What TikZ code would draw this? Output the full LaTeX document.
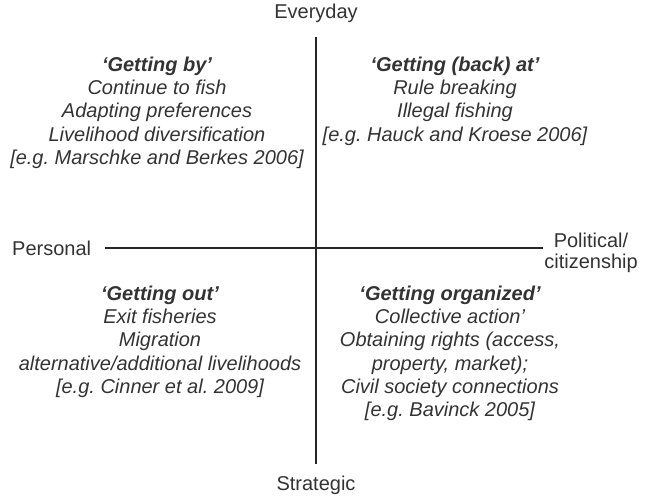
\documentclass[tikz,border=0pt]{standalone}
\usepackage{fontspec}
\setmainfont{Liberation Sans}
\begin{document}
\frenchspacing
\begin{tikzpicture}[x=1pt,y=-1pt,
  txt/.style={text=black!80, font=\fontsize{20}{23.3}\selectfont\itshape, align=center, inner sep=0pt},
  axlab/.style={text=black!80, font=\fontsize{20}{21}\selectfont, align=center, inner sep=0pt},
  axis/.style={draw=black!85, line width=1.2pt}]
\useasboundingbox (0,0) rectangle (647,496);
\node[axlab] (every) at (316,13) {Everyday};
\node[axlab] (strat) at (316,485) {Strategic};
\node[axlab, anchor=west] (pers) at (12,248) {Personal};
\node[axlab] (pol) at (591,253) {Political/\\citizenship};
\coordinate (vt) at (316,37);
\coordinate (vb) at (316,464);
\coordinate (hl) at (105,248);
\coordinate (hr) at (543,248);
\draw[axis] (vt) -- (vb);
\draw[axis] (hl) -- (hr);
\node[txt, anchor=north] (q1) at (157,56.5) {\textbf{‘Getting by’}\\Continue to fish\\Adapting preferences\\Livelihood diversification\\{}[e.g. Marschke and Berkes 2006]};
\node[txt, anchor=north] (q2) at (455,56.5) {\textbf{‘Getting (back) at’}\\Rule breaking\\Illegal fishing\\{}[e.g. Hauck and Kroese 2006]};
\node[txt, anchor=north] (q3) at (160,285.5) {\textbf{‘Getting out'}\\Exit fisheries\\Migration\\alternative/additional livelihoods\\{}[e.g. Cinner et al. 2009]};
\node[txt, anchor=north] (q4) at (450,285.5) {\textbf{‘Getting organized'}\\Collective action'\\Obtaining rights (access,\\property, market);\\Civil society connections\\{}[e.g. Bavinck 2005]};
\end{tikzpicture}
\end{document}
